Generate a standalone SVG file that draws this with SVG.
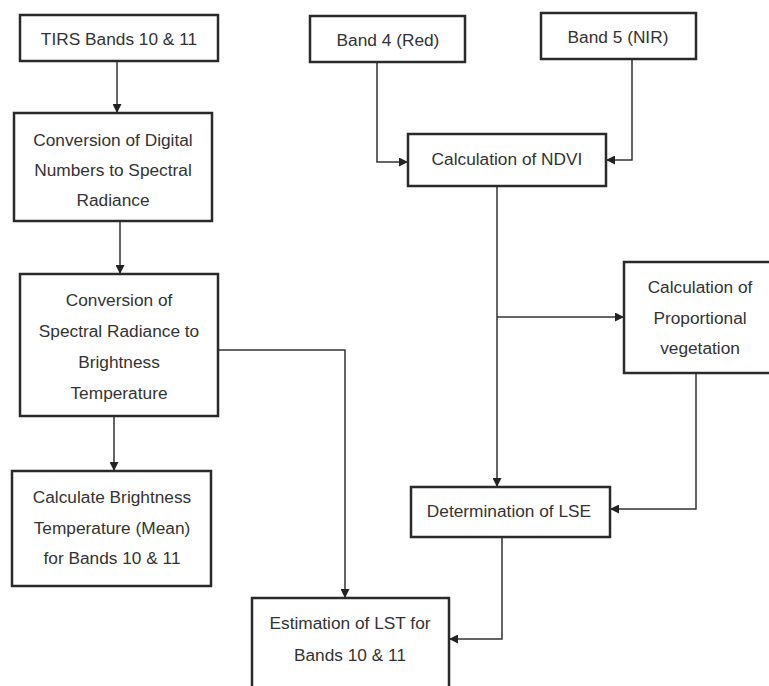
<svg xmlns="http://www.w3.org/2000/svg" width="769" height="686" viewBox="0 0 769 686">
<style>
.box{fill:#fff;stroke:#2a2a2a;stroke-width:2.5}
.t{font-family:"Liberation Sans",Arial,sans-serif;font-size:17.3px;fill:#333;text-anchor:middle;dominant-baseline:central}
.c{fill:none;stroke:#333;stroke-width:1.5}
</style>
<defs>
<marker id="ah" viewBox="0 0 10 10" refX="10" refY="5" markerWidth="9" markerHeight="9" markerUnits="userSpaceOnUse" orient="auto">
<path d="M0,0 L10,5 L0,10 Z" fill="#222"/>
</marker>
</defs>
<rect width="769" height="686" fill="#fff"/>
<g id="connectors">
<path class="c" d="M117,61 V113" marker-end="url(#ah)"/>
<path class="c" d="M120,221 V274" marker-end="url(#ah)"/>
<path class="c" d="M114,416 V471" marker-end="url(#ah)"/>
<path class="c" d="M218,350 H345 V598" marker-end="url(#ah)"/>
<path class="c" d="M377,62 V162 H408" marker-end="url(#ah)"/>
<path class="c" d="M632,59 V160 H606" marker-end="url(#ah)"/>
<path class="c" d="M497,186 V487" marker-end="url(#ah)"/>
<path class="c" d="M497,317 H624" marker-end="url(#ah)"/>
<path class="c" d="M696,373 V509 H610" marker-end="url(#ah)"/>
<path class="c" d="M502,537 V639 H449" marker-end="url(#ah)"/>
</g>
<g id="tirs">
<rect class="box" x="20" y="15" width="198" height="46"/>
<text class="t" x="119" y="39">TIRS Bands 10 &amp; 11</text>
</g>
<g id="dn2rad">
<rect class="box" x="14" y="113" width="198" height="108"/>
<text class="t" x="113" y="140">Conversion of Digital</text>
<text class="t" x="113" y="170">Numbers to Spectral</text>
<text class="t" x="113" y="200">Radiance</text>
</g>
<g id="rad2bt">
<rect class="box" x="20" y="274" width="198" height="142"/>
<text class="t" x="119" y="300">Conversion of</text>
<text class="t" x="119" y="331">Spectral Radiance to</text>
<text class="t" x="119" y="362">Brightness</text>
<text class="t" x="119" y="393">Temperature</text>
</g>
<g id="btmean">
<rect class="box" x="12" y="471" width="199" height="115"/>
<text class="t" x="112" y="497">Calculate Brightness</text>
<text class="t" x="112" y="528">Temperature (Mean)</text>
<text class="t" x="112" y="558">for Bands 10 &amp; 11</text>
</g>
<g id="lst">
<rect class="box" x="252" y="598" width="197" height="100"/>
<text class="t" x="350" y="623">Estimation of LST for</text>
<text class="t" x="350" y="655">Bands 10 &amp; 11</text>
</g>
<g id="band4">
<rect class="box" x="310" y="16" width="155" height="46"/>
<text class="t" x="388" y="40">Band 4 (Red)</text>
</g>
<g id="band5">
<rect class="box" x="541" y="13" width="155" height="46"/>
<text class="t" x="618" y="37">Band 5 (NIR)</text>
</g>
<g id="ndvi">
<rect class="box" x="408" y="134" width="198" height="52"/>
<text class="t" x="507" y="159">Calculation of NDVI</text>
</g>
<g id="pv">
<rect class="box" x="624" y="262" width="154" height="111"/>
<text class="t" x="700" y="287">Calculation of</text>
<text class="t" x="700" y="318">Proportional</text>
<text class="t" x="700" y="348">vegetation</text>
</g>
<g id="lse">
<rect class="box" x="411" y="487" width="199" height="50"/>
<text class="t" x="509" y="511">Determination of LSE</text>
</g>
</svg>
